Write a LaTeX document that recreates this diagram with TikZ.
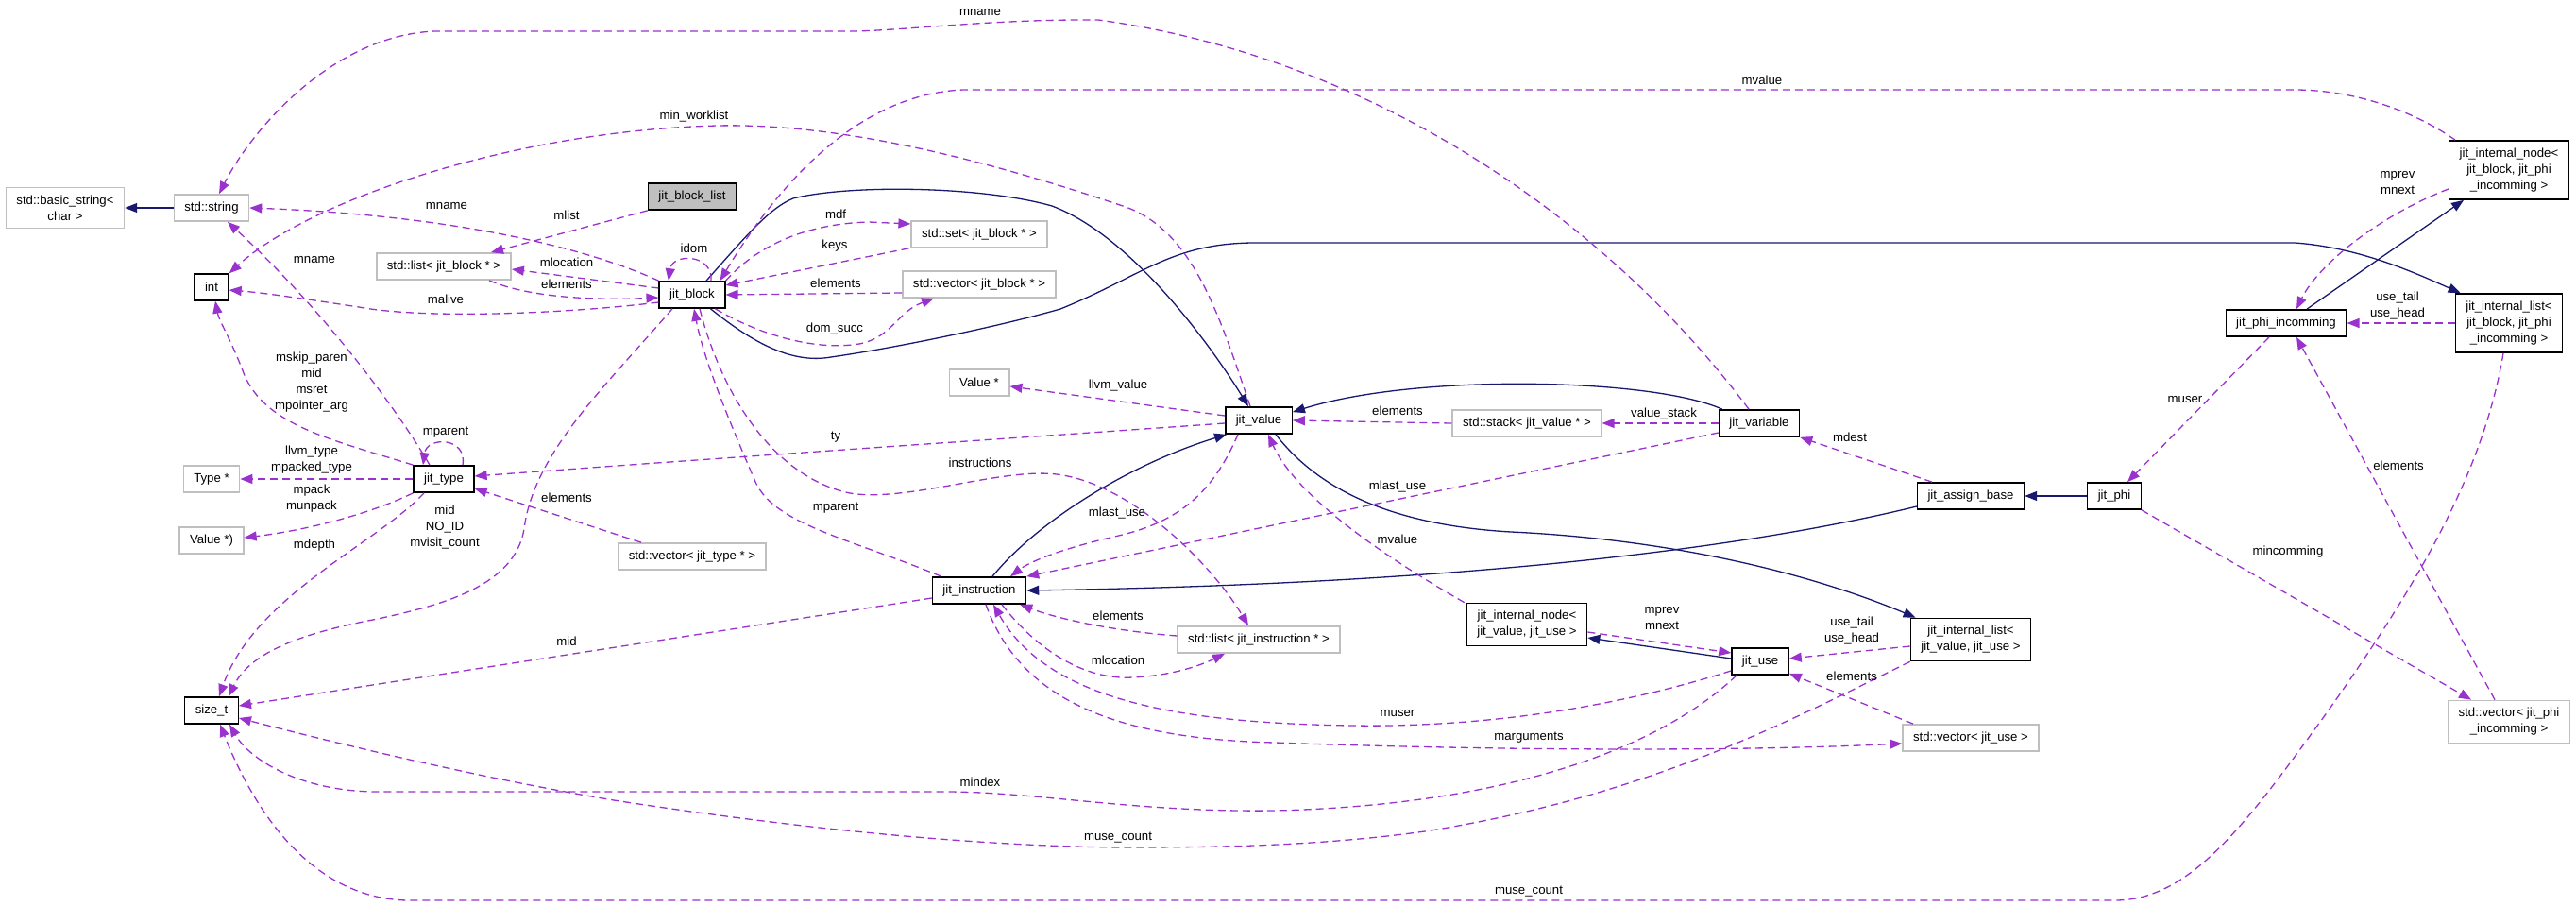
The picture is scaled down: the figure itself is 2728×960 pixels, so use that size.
\documentclass[tikz,border=0pt]{standalone}
\usepackage{fontspec}
\setmainfont{Liberation Sans}
\usepackage{tikz}
\usetikzlibrary{arrows.meta}
\definecolor{usecol}{HTML}{9A32CD}
\definecolor{inhcol}{HTML}{191970}
\definecolor{extgray}{HTML}{BFBFBF}

\begin{document}
\begin{tikzpicture}[x=1pt, y=-1pt, font=\fontsize{13.2}{17}\selectfont]
% collaboration graph of jit_block_list, drawn in pixel units (y grows downwards)
\tikzstyle{cls} = [rectangle, draw=black, line width=1.4pt, fill=white, inner xsep=11pt, inner ysep=8pt, minimum height=28pt, align=center]
\tikzstyle{ext} = [cls, draw=extgray]
\tikzstyle{focus} = [cls, fill=extgray]
\tikzstyle{member} = [draw=usecol, line width=1.3pt, dash pattern=on 8pt off 5pt, -{Stealth[length=13pt, width=10pt, inset=0pt]}]
\tikzstyle{inherits} = [draw=inhcol, line width=1.3pt, -{Stealth[length=13pt, width=10pt, inset=0pt]}]
\tikzstyle{lbl} = [align=center, inner sep=0pt, text=black]
\useasboundingbox[fill=white] (0,0) rectangle (2728,960);
% Nodes
\node (basic_str) [ext] at (69,220) {std::basic\_string<\\char >};
\node (str) [ext] at (224,220) {std::string};
\node (int) [cls] at (224,304) {int};
\node (blist) [ext] at (470,282) {std::list< jit\_block * >};
\node (blklist) [focus] at (733,208) {jit\_block\_list};
\node (blk) [cls] at (733,312) {jit\_block};
\node (bset) [ext] at (1037,248) {std::set< jit\_block * >};
\node (bvec) [ext] at (1037,301) {std::vector< jit\_block * >};
\node (llvmval) [ext] at (1037,405) {Value *};
\node (val) [cls] at (1333,445) {jit\_value};
\node (vstack) [ext] at (1617,448) {std::stack< jit\_value * >};
\node (var) [cls] at (1863,448) {jit\_variable};
\node (type) [cls] at (470,507) {jit\_type};
\node (llvmtype) [ext] at (224,507) {Type *};
\node (fnval) [ext] at (224,572) {Value *)};
\node (size) [cls] at (224,752) {size\_t};
\node (tvec) [ext] at (733,589) {std::vector< jit\_type * >};
\node (instr) [cls] at (1037,625) {jit\_instruction};
\node (ilist) [ext] at (1333,677) {std::list< jit\_instruction * >};
\node (vnode) [cls] at (1617,661) {jit\_internal\_node<\\jit\_value, jit\_use >};
\node (use) [cls] at (1864,700) {jit\_use};
\node (vlist) [cls] at (2087,677) {jit\_internal\_list<\\jit\_value, jit\_use >};
\node (uvec) [ext] at (2087,781) {std::vector< jit\_use >};
\node (assign) [cls] at (2087,525) {jit\_assign\_base};
\node (phi) [cls] at (2239,525) {jit\_phi};
\node (inc) [cls] at (2421,342) {jit\_phi\_incomming};
\node (bnode) [cls] at (2657,180) {jit\_internal\_node<\\jit\_block, jit\_phi\\\_incomming >};
\node (blistint) [cls] at (2657,342) {jit\_internal\_list<\\jit\_block, jit\_phi\\\_incomming >};
\node (ivec) [ext] at (2657,764) {std::vector< jit\_phi\\\_incomming >};
% Inheritance
\draw [inherits] (str.west) -- (basic_str.east);
\draw [inherits] ([xshift=15pt]blk.north) .. controls (790,250) and (815,220) .. (840,210) .. controls (900,195) and (1040,197) .. (1114,218) .. controls (1200,250) and (1285,370) .. ([xshift=-11pt]val.north);
\draw [inherits] ([xshift=-16pt]blk.south east) .. controls (800,365) and (840,385) .. (880,378) .. controls (950,368) and (1060,345) .. (1123,327) .. controls (1210,292) and (1240,257) .. (1330,257) -- (2430,257) .. controls (2500,262) and (2560,290) .. ([xshift=6pt]blistint.north west);
\draw [inherits] ([xshift=14pt]instr.north) .. controls (1100,550) and (1200,490) .. ([xshift=2pt]val.south west);
\draw [inherits] ([xshift=4pt]var.north west) .. controls (1750,400) and (1500,395) .. ([yshift=-6pt]val.north east);
\draw [inherits] ([yshift=-11pt]assign.west) .. controls (1850,580) and (1550,618) .. (instr.east);
\draw [inherits] ([xshift=18pt]val.south) .. controls (1390,510) and (1460,555) .. (1600,563) .. controls (1750,570) and (1900,600) .. ([xshift=6pt]vlist.north west);
\draw [inherits] ([yshift=3pt]use.west) -- ([yshift=-14pt]vnode.east);
\draw [inherits] (phi.west) -- (assign.east);
\draw [inherits] ([xshift=22pt]inc.north) -- ([xshift=16pt]bnode.south west);
% Members
\draw [member] (blk.north west) .. controls (620,262) and (480,228) .. (str.east) node[lbl] at (473,218) {mname};
\draw [member] (blklist.south west) -- ([xshift=50pt]blist.north) node[lbl] at (600,228) {mlist};
\draw [member] ([yshift=7pt]blk.west) -- ([yshift=-3pt]blist.east) node[lbl] at (600,278) {mlocation};
\draw [member] ([xshift=48pt]blist.south) .. controls (560,315) and (630,318) .. ([yshift=-3pt]blk.west) node[lbl] at (600,301) {elements};
\draw [member] ([yshift=-8pt]blk.west) .. controls (600,332) and (450,338) .. (380,325) .. controls (320,316) and (280,310) .. ([yshift=-3pt]int.east) node[lbl] at (472,317) {malive};
\draw [member] ([xshift=20pt]blk.north) .. controls (755,268) and (712,268) .. ([xshift=-25pt]blk.north) node[lbl] at (735,263) {idom};
\draw [member] (blk.north east) .. controls (800,262) and (850,237) .. (920,235) -- ([yshift=11pt]bset.west) node[lbl] at (885,227) {mdf};
\draw [member] ([xshift=-2pt]bset.south west) -- ([yshift=10pt]blk.east) node[lbl] at (884,260) {keys};
\draw [member] ([yshift=-9pt]bvec.west) -- (blk.east) node[lbl] at (885,300) {elements};
\draw [member] ([xshift=-11pt]blk.south east) .. controls (800,352) and (860,372) .. (910,364) .. controls (945,357) and (950,330) .. ([xshift=-48pt]bvec.south) node[lbl] at (884,348) {dom\_succ};
\draw [member] ([xshift=-21pt]blk.south) .. controls (640,410) and (565,480) .. (555,560) .. controls (545,620) and (470,640) .. (400,655) .. controls (320,670) and (265,690) .. ([xshift=18pt]size.north) node[lbl] at (471,558) {mid\\NO\_ID\\mvisit\_count};
\draw [member] ([xshift=-11pt]var.north) .. controls (1700,230) and (1450,60) .. (1163,21) .. controls (1050,20) and (950,33) .. (900,33) -- (460,33) .. controls (350,38) and (265,140) .. ([xshift=8pt]str.north) node[lbl] at (1038,13) {mname};
\draw [member] ([xshift=-9pt]val.north) .. controls (1290,330) and (1262,240) .. (1186,217) .. controls (1060,175) and (900,130) .. (760,133) .. controls (550,138) and (330,210) .. (int.north east) node[lbl] at (735,123) {min\_worklist};
\draw [member] ([xshift=7pt]bnode.north west) .. controls (2545,110) and (2480,95) .. (2430,95) -- (1020,95) .. controls (900,100) and (815,210) .. ([xshift=-6pt]blk.north east) node[lbl] at (1866,85) {mvalue};
\draw [member] ([xshift=-15pt]type.north) .. controls (425,440) and (345,330) .. ([xshift=17pt]str.south) node[lbl] at (333,275) {mname};
\draw [member] (type.north west) .. controls (350,465) and (280,450) .. (258,395) .. controls (245,360) and (232,340) .. ([xshift=4pt]int.south) node[lbl] at (330,405) {mskip\_paren\\mid\\msret\\mpointer\_arg};
\draw [member] ([xshift=20pt]type.north) .. controls (495,462) and (452,462) .. ([xshift=-22pt]type.north) node[lbl] at (472,458) {mparent};
\draw [member] (type.west) -- (llvmtype.east) node[lbl] at (330,487) {llvm\_type\\mpacked\_type};
\draw [member] (type.south west) .. controls (390,545) and (320,562) .. ([yshift=3pt]fnval.east) node[lbl] at (330,528) {mpack\\munpack};
\draw [member] ([xshift=-21pt]type.south) .. controls (400,575) and (270,630) .. ([xshift=8pt]size.north) node[lbl] at (333,577) {mdepth};
\draw [member] ([xshift=-54pt]tvec.north) -- ([yshift=-10pt]type.east) node[lbl] at (600,527) {elements};
\draw [member] ([yshift=-3pt]val.west) .. controls (1100,462) and (800,482) .. ([yshift=3pt]type.east) node[lbl] at (885,463) {ty};
\draw [member] ([yshift=5pt]val.west) -- ([yshift=-4pt]llvmval.east) node[lbl] at (1184,408) {llvm\_value};
\draw [member] (vstack.west) -- (val.east) node[lbl] at (1480,435) {elements};
\draw [member] (var.west) -- (vstack.east) node[lbl] at (1762,438) {value\_stack};
\draw [member] ([xshift=-41pt]assign.north) -- (var.south east) node[lbl] at (1959,463) {mdest};
\draw [member] ([yshift=-10pt]var.west) -- (instr.north east) node[lbl] at (1480,515) {mlast\_use};
\draw [member] ([xshift=-22pt]val.south) .. controls (1285,520) and (1250,553) .. (1180,568) .. controls (1120,582) and (1090,595) .. ([xshift=33pt]instr.north) node[lbl] at (1183,543) {mlast\_use};
\draw [member] ([xshift=8pt]blk.south) .. controls (765,420) and (820,505) .. (900,522) .. controls (960,532) and (1060,495) .. (1119,502) .. controls (1200,512) and (1285,600) .. ([xshift=-11pt]ilist.north) node[lbl] at (1038,490) {instructions};
\draw [member] ([xshift=10pt]instr.north west) .. controls (900,570) and (820,555) .. (800,510) .. controls (772,445) and (745,380) .. ([xshift=2pt]blk.south) node[lbl] at (885,538) {mparent};
\draw [member] ([yshift=4pt]ilist.west) .. controls (1180,668) and (1120,655) .. ([xshift=-7pt]instr.south east) node[lbl] at (1184,652) {elements};
\draw [member] ([xshift=24pt]instr.south) .. controls (1100,690) and (1150,720) .. (1200,717) .. controls (1240,715) and (1270,705) .. ([xshift=-36pt]ilist.south) node[lbl] at (1184,699) {mlocation};
\draw [member] ([yshift=-10pt]use.west) .. controls (1700,752) and (1560,770) .. (1430,768) .. controls (1250,765) and (1110,742) .. ([xshift=15pt]instr.south) node[lbl] at (1480,755) {muser};
\draw [member] ([xshift=7pt]instr.south) .. controls (1080,740) and (1180,782) .. (1350,786) .. controls (1600,795) and (1850,795) .. ([yshift=-6pt]uvec.west) node[lbl] at (1619,781) {marguments};
\draw [member] ([yshift=-8pt]instr.west) -- ([yshift=5pt]size.east) node[lbl] at (600,679) {mid};
\draw [member] ([xshift=-25pt]use.south) .. controls (1760,790) and (1600,852) .. (1350,858) .. controls (1200,860) and (1100,838) .. (1000,838) -- (400,838) .. controls (320,838) and (265,805) .. ([xshift=19pt]size.south) node[lbl] at (1038,828) {mindex};
\draw [member] ([xshift=-6pt]blistint.south) .. controls (2630,500) and (2560,620) .. (2460,760) .. controls (2380,870) and (2320,953) .. (2240,953) -- (430,953) .. controls (330,950) and (270,860) .. ([xshift=9pt]size.south) node[lbl] at (1619,944) {muse\_count};
\draw [member] (vlist.south west) .. controls (1900,760) and (1750,842) .. (1509,880) .. controls (1400,895) and (1300,897) .. (1186,897) .. controls (1000,895) and (800,870) .. (650,847) .. controls (500,822) and (350,785) .. ([yshift=-8pt]size.east) node[lbl] at (1184,887) {muse\_count};
\draw [member] ([yshift=-8pt]vnode.east) -- ([yshift=9pt]use.west) node[lbl] at (1760,655) {mprev\\mnext};
\draw [member] ([xshift=-2pt]vnode.north west) .. controls (1450,580) and (1370,520) .. ([xshift=10pt]val.south) node[lbl] at (1480,571) {mvalue};
\draw [member] ([yshift=-7pt]vlist.west) -- ([yshift=3pt]use.east) node[lbl] at (1961,668) {use\_tail\\use\_head};
\draw [member] ([xshift=-61pt]uvec.north) -- ([yshift=2pt]use.south east) node[lbl] at (1961,716) {elements};
\draw [member] ([xshift=-18pt]inc.south) -- ([xshift=14pt]phi.north) node[lbl] at (2314,423) {muser};
\draw [member] (phi.south east) -- ([xshift=-40pt]ivec.north) node[lbl] at (2423,584) {mincomming};
\draw [member] ([xshift=-15pt]ivec.north) -- ([xshift=11pt]inc.south) node[lbl] at (2540,493) {elements};
\draw [member] ([yshift=-20pt]bnode.west) .. controls (2520,228) and (2455,280) .. ([xshift=11pt]inc.north) node[lbl] at (2539,194) {mprev\\mnext};
\draw [member] (blistint.west) -- (inc.east) node[lbl] at (2539,324) {use\_tail\\use\_head};
\end{tikzpicture}
\end{document}
